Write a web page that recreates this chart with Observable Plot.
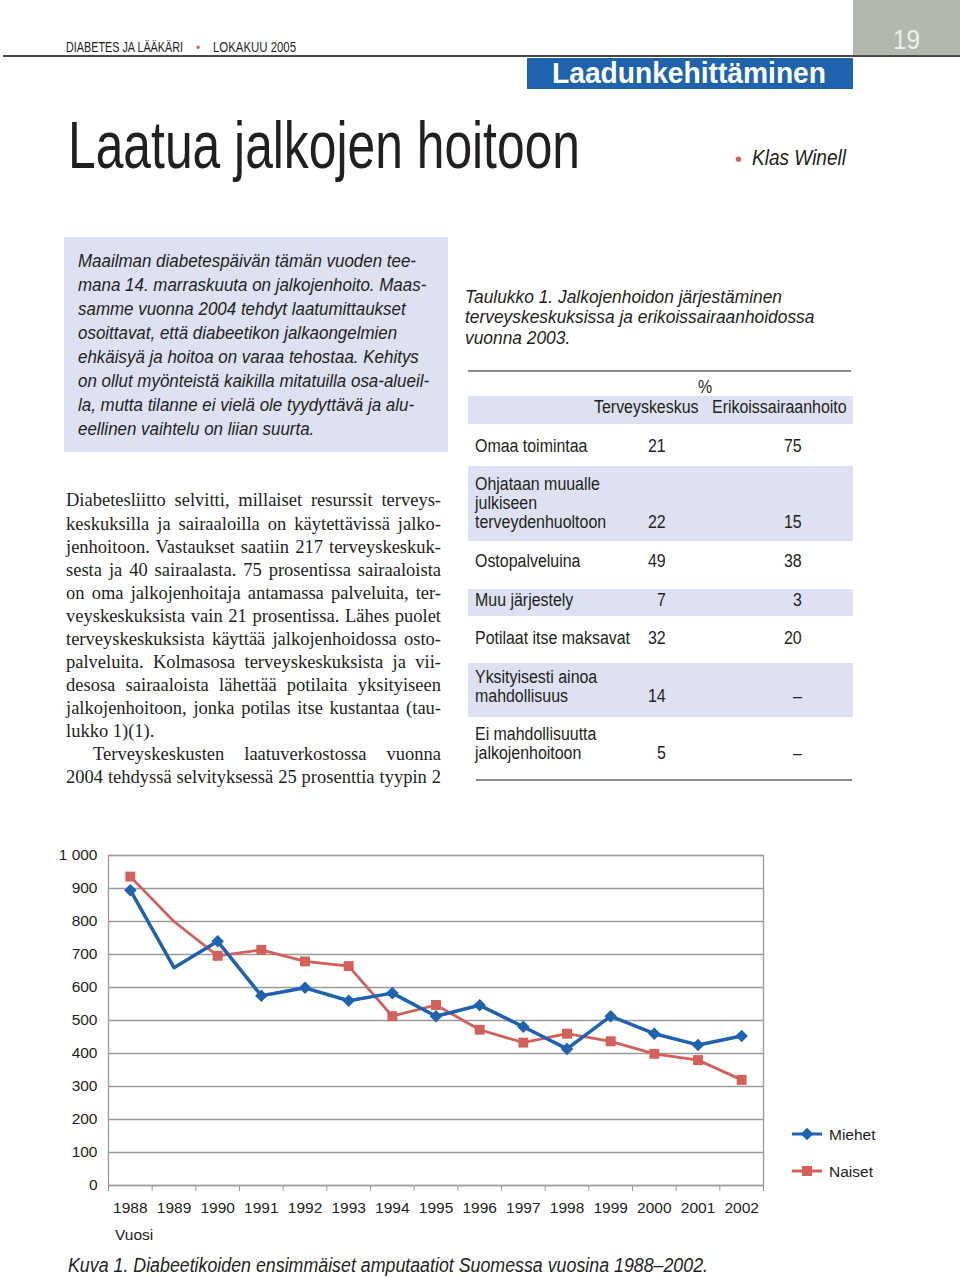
<!DOCTYPE html>
<html><head><meta charset="utf-8">
<script src="https://cdn.jsdelivr.net/npm/d3@7"></script>
<script src="https://cdn.jsdelivr.net/npm/@observablehq/plot@0.6"></script>
<style>
html,body{margin:0;padding:0;background:#fff;}
#page{position:relative;width:960px;height:1278px;overflow:hidden;font-family:"Liberation Sans",Arial,sans-serif;color:#231f20;}
.t{position:absolute;white-space:pre;line-height:1;transform-origin:0 0;}
.box{position:absolute;}
#chart{position:absolute;left:0;top:840px;}
#legend{position:absolute;left:780px;top:1115px;}
</style></head><body><div id="page"></div>
<script>
// ---------- data ----------
const years = [1988,1989,1990,1991,1992,1993,1994,1995,1996,1997,1998,1999,2000,2001,2002];
const miehet = [895,660,740,575,599,560,583,513,546,481,414,513,460,426,453];
const naiset = [936,800,696,714,679,665,513,547,472,433,460,437,399,380,320];
const noMarkerYears = [1989];
const yTicks = [0,100,200,300,400,500,600,700,800,900,1000];
const seriesNames = ["Miehet","Naiset"];
const xLabel = "Vuosi";
const chartCaption = "Kuva 1. Diabeetikoiden ensimmäiset amputaatiot Suomessa vuosina 1988–2002.";

const rowLabels = [["Omaa toimintaa"],["Ohjataan muualle","julkiseen","terveydenhuoltoon"],["Ostopalveluina"],["Muu järjestely"],["Potilaat itse maksavat"],["Yksityisesti ainoa","mahdollisuus"],["Ei mahdollisuutta","jalkojenhoitoon"]];
const terveyskeskus = ["21","22","49","7","32","14","5"];
const erikoissairaanhoito = ["75","15","38","3","20","–","–"];
const tableHead = ["%","Terveyskeskus","Erikoissairaanhoito"];
const tableCaption = ["Taulukko 1. Jalkojenhoidon järjestäminen","terveyskeskuksissa ja erikoissairaanhoidossa","vuonna 2003."];

const headerLeft = ["DIABETES JA LÄÄKÄRI","LOKAKUU 2005"];
const pageNumber = "19";
const section = "Laadunkehittäminen";
const title = "Laatua jalkojen hoitoon";
const author = "Klas Winell";
const introLines = ["Maailman diabetespäivän tämän vuoden tee-","mana 14. marraskuuta on jalkojenhoito. Maas-","samme vuonna 2004 tehdyt laatumittaukset","osoittavat, että diabeetikon jalkaongelmien","ehkäisyä ja hoitoa on varaa tehostaa. Kehitys","on ollut myönteistä kaikilla mitatuilla osa-alueil-","la, mutta tilanne ei vielä ole tyydyttävä ja alu-","eellinen vaihtelu on liian suurta."];
const bodyLines = ["Diabetesliitto selvitti, millaiset resurssit terveys-","keskuksilla ja sairaaloilla on käytettävissä jalko-","jenhoitoon. Vastaukset saatiin 217 terveyskeskuk-","sesta ja 40 sairaalasta. 75 prosentissa sairaaloista","on oma jalkojenhoitaja antamassa palveluita, ter-","veyskeskuksista vain 21 prosentissa. Lähes puolet","terveyskeskuksista käyttää jalkojenhoidossa osto-","palveluita. Kolmasosa terveyskeskuksista ja vii-","desosa sairaaloista lähettää potilaita yksityiseen","jalkojenhoitoon, jonka potilas itse kustantaa (tau-","lukko 1)(1).","Terveyskeskusten laatuverkostossa vuonna","2004 tehdyssä selvityksessä 25 prosenttia tyypin 2"];

// ---------- helpers ----------
const page = document.getElementById("page");
const BLUE = "#1f63ae", RED = "#d4605a", LAV = "#dde1f1", INK = "#231f20";
function rect(x,y,w,h,color){const d=document.createElement("div");d.className="box";Object.assign(d.style,{left:x+"px",top:y+"px",width:w+"px",height:h+"px",background:color});page.appendChild(d);return d;}
function measure(text,size,extra){const s=document.createElement("div");s.className="t";s.style.fontSize=size+"px";Object.assign(s.style,extra||{});s.textContent=text;page.appendChild(s);const w=s.getBoundingClientRect().width;s.remove();return w;}
function place(o){
  const s=document.createElement("div");s.className="t";s.textContent=o.text;
  const fs=o.size;s.style.fontSize=fs+"px";
  if(o.family)s.style.fontFamily=o.family;
  if(o.italic)s.style.fontStyle="italic";
  if(o.weight)s.style.fontWeight=o.weight;
  s.style.color=o.color||INK;
  page.appendChild(s);
  let w=s.getBoundingClientRect().width;
  if(o.justW){const n=(o.text.match(/ /g)||[]).length;if(n){s.style.wordSpacing=((o.justW-w)/n)+"px";w=o.justW;}}
  let sx=o.sx||1;
  if(o.fitW)sx=o.fitW/w;
  if(sx!==1)s.style.transform=`scaleX(${sx})`;
  w*=sx;
  let x=o.x;if(o.anchor==="end")x-=w;else if(o.anchor==="middle")x-=w/2;
  s.style.left=x+"px";s.style.top=(o.y-(o.asc||0.85)*fs)+"px";
  return sx;
}

// ---------- header ----------
rect(853,0,107,56,"#b1b9ae");
rect(3,55,957,2,"#4a4a4a");
rect(527,58,326,31,BLUE);
place({text:headerLeft[0],x:66,y:52,size:14,fitW:117});
place({text:"•",x:196,y:52,size:12,color:RED});
place({text:headerLeft[1],x:213,y:52,size:14,fitW:83});
place({text:pageNumber,x:893,y:50,size:28,fitW:27,color:"#eef0ec"});
place({text:section,x:552,y:83,size:30,weight:"bold",fitW:274,color:"#fff"});
place({text:title,x:68,y:168,size:66,fitW:512});
place({text:"•",x:735,y:166,size:20,color:RED});
place({text:author,x:752,y:166,size:22,italic:true,fitW:94});

// ---------- intro box ----------
rect(64,237,384,215,LAV);
let isx=null;
introLines.forEach((l,i)=>{const r=place({text:l,x:78,y:267+i*24.1,size:18,italic:true,sx:isx||1,fitW:isx?null:338});if(!isx)isx=r;});

// ---------- body text ----------
bodyLines.forEach((l,i)=>{
  const y=507+i*23.08;const serif='"Liberation Serif","Times New Roman",serif';
  if(i===10)place({text:l,x:66,y,size:18.5,family:serif,asc:0.84});
  else if(i===11)place({text:l,x:93,y,size:18.5,family:serif,justW:348,asc:0.84});
  else place({text:l,x:66,y,size:18.5,family:serif,justW:375,asc:0.84});
});

// ---------- table ----------
let csx=null;
tableCaption.forEach((l,i)=>{const r=place({text:l,x:465,y:303+i*20.5,size:18,italic:true,sx:csx||1,fitW:csx?null:317});if(!csx)csx=r;});
rect(468,370,383,1.5,"#8a8a8a");
rect(468,396,385,28,LAV);
const bands=[[466,541],[589,616],[663,717]];
bands.forEach(b=>rect(468,b[0],385,b[1]-b[0],LAV));
rect(476,779,376,1.5,"#8a8a8a");
const TS=18;
const tsx=155/measure("Potilaat itse maksavat",TS);
place({text:tableHead[0],x:705,y:393,size:TS,sx:tsx,anchor:"middle"});
place({text:tableHead[1],x:594,y:413,size:TS,sx:tsx});
place({text:tableHead[2],x:712,y:413,size:TS,sx:tsx});
const rowBase=[452,490,567,606,644,683,740];
rowLabels.forEach((lines,i)=>{
  lines.forEach((l,j)=>place({text:l,x:475,y:rowBase[i]+j*19,size:TS,sx:tsx}));
  const yv=rowBase[i]+(lines.length-1)*19;
  place({text:terveyskeskus[i],x:666,y:yv,size:TS,sx:tsx,anchor:"end"});
  place({text:erikoissairaanhoito[i],x:802,y:yv,size:TS,sx:tsx,anchor:"end"});
});

// ---------- chart ----------
const M=years.map((y,i)=>({year:y,value:miehet[i]}));
const N=years.map((y,i)=>({year:y,value:naiset[i]}));
const bounds=d3.range(years.length+1).map(i=>years[0]-0.5+i);
const fmtY=d=>d>=1000?d3.format(",")(d).replace(","," "):String(d);
const chart=Plot.plot({
  width:800,height:410,marginLeft:108,marginRight:37,marginTop:15,marginBottom:65,
  style:{fontFamily:'"Liberation Sans",Arial,sans-serif',fontSize:"15.5px",color:INK,background:"transparent",overflow:"visible"},
  x:{type:"linear",domain:[years[0]-0.5,years[years.length-1]+0.5]},
  y:{domain:[0,1000]},
  marks:[
    Plot.gridY(yTicks,{stroke:"#9a9a9a",strokeOpacity:1,strokeWidth:1.3}),
    Plot.frame({stroke:"#9a9a9a",strokeWidth:1.3}),
    Plot.axisY(yTicks,{tickSize:0,tickPadding:11,tickFormat:fmtY,label:null}),
    Plot.axisX(bounds,{tickSize:6,tickFormat:()=>"",stroke:"#9a9a9a",label:null}),
    Plot.axisX(years,{tickSize:0,tickPadding:16,tickFormat:d=>String(d),label:null}),
    Plot.line(N,{x:"year",y:"value",stroke:RED,strokeWidth:2.8}),
    Plot.dot(N.filter(d=>!noMarkerYears.includes(d.year)),{x:"year",y:"value",symbol:"square",r:5.6,fill:RED,stroke:"none"}),
    Plot.line(M,{x:"year",y:"value",stroke:BLUE,strokeWidth:3.5}),
    Plot.dot(M.filter(d=>!noMarkerYears.includes(d.year)),{x:"year",y:"value",symbol:"square",rotate:45,r:5,fill:BLUE,stroke:"none"})
  ]
});
chart.id="chart";
page.appendChild(chart);
place({text:xLabel,x:115,y:1240,size:15.5});
place({text:chartCaption,x:68,y:1273,size:19.5,italic:true,fitW:640});

// legend
const lg=d3.select(page).append("svg").attr("id","legend").attr("width",120).attr("height",80);
[[BLUE,19,"diamond"],[RED,56,"square"]].forEach(([c,yy,sym])=>{
  lg.append("line").attr("x1",12).attr("x2",42).attr("y1",yy).attr("y2",yy).attr("stroke",c).attr("stroke-width",3);
  if(sym==="diamond")lg.append("rect").attr("x",-4.4).attr("y",-4.4).attr("width",8.8).attr("height",8.8).attr("fill",c).attr("transform",`translate(27,${yy}) rotate(45)`);
  else lg.append("rect").attr("x",22).attr("y",yy-5).attr("width",10).attr("height",10).attr("fill",c);
});
place({text:seriesNames[0],x:829,y:1140,size:15.5});
place({text:seriesNames[1],x:829,y:1177,size:15.5});
</script></body></html>
